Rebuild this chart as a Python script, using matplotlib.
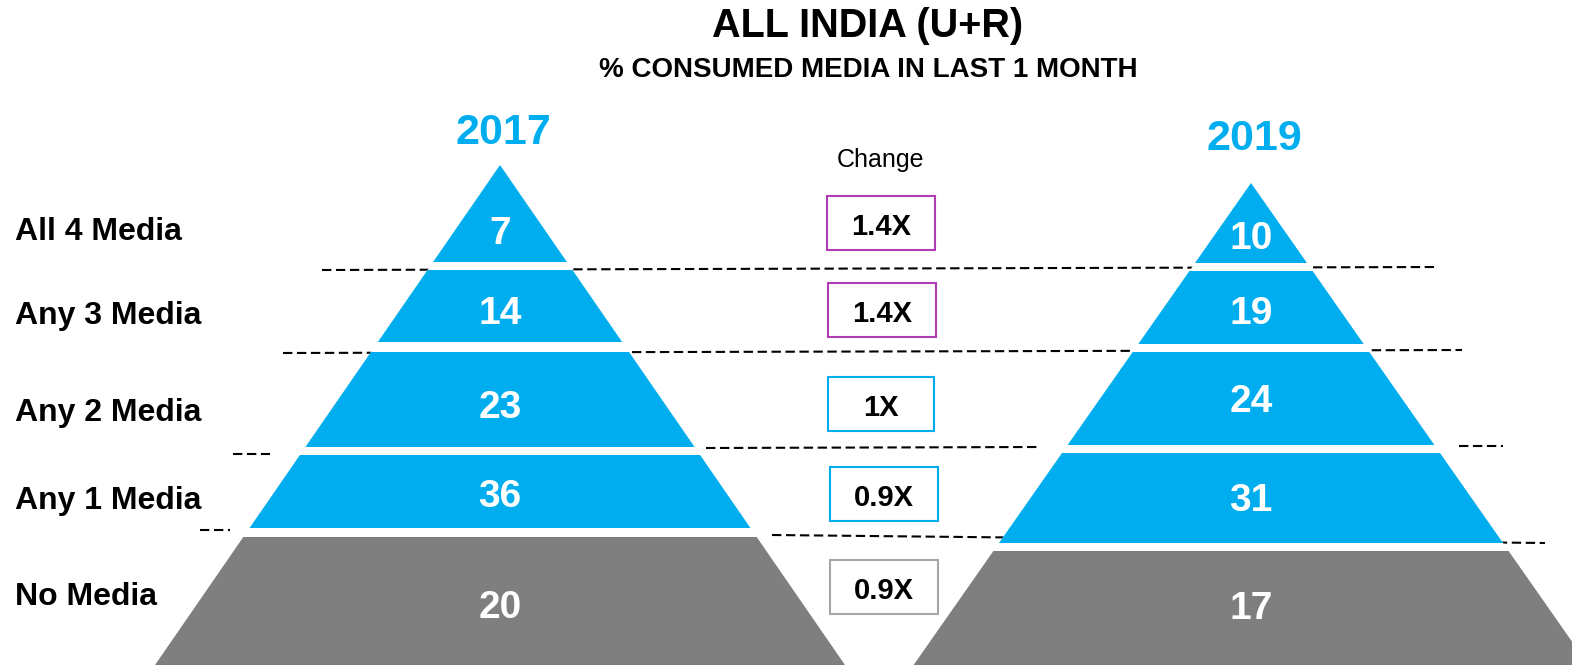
import matplotlib.pyplot as plt
from matplotlib.patches import Polygon, Rectangle

# ===== data =====
categories = ["All 4 Media", "Any 3 Media", "Any 2 Media", "Any 1 Media", "No Media"]
values_2017 = [7, 14, 23, 36, 20]
values_2019 = [10, 19, 24, 31, 17]
change_labels = ["1.4X", "1.4X", "1X", "0.9X", "0.9X"]
years = ["2017", "2019"]

# ===== layout (pixel coords, y grows downward) =====
W, H = 1572, 665
BLUE = "#00AEEF"
GREY = "#7F7F7F"
PURPLE = "#B13BB5"
BOX_GREY = "#A6A6A6"
seg_colors = [BLUE, BLUE, BLUE, BLUE, GREY]
box_colors = [PURPLE, PURPLE, BLUE, BLUE, BOX_GREY]

# apex x, apex y, side slope, segment (top, bottom) rows, label y
pyramids = [
    dict(cx=500, apex=165, slope=0.69,
         rows=[(165, 262), (270, 342), (352, 447), (455, 528), (537, 665)],
         text_y=[230, 310, 404, 493, 604], year_y=128),
    dict(cx=1251, apex=183, slope=0.70,
         rows=[(183, 263), (271, 344), (352, 445), (453, 543), (551, 665)],
         text_y=[235, 310, 398, 497, 605], year_y=134),
]
label_y = [228, 312, 409, 497, 593]
box_rows = [(196, 250), (283, 337), (377, 431), (467, 521), (560, 614)]
box_x = [(827, 935), (828, 936), (828, 934), (830, 938), (830, 938)]

dash_pieces = [
    [(322, 270), (1437, 267)],
    [(283, 353), (1462, 350)],
    [(233, 454), (270, 454)],
    [(706, 448), (1040, 447)],
    [(1459, 446), (1503, 446)],
    [(200, 530), (230, 530)],
    [(772, 535), (1545, 543)],
]

DY = 4  # nudge: matplotlib centres on the full text box, not the caps

FONT = ["Liberation Sans", "DejaVu Sans"]
plt.rcParams["font.family"] = FONT

fig = plt.figure(figsize=(W / 100, H / 100), dpi=100)
ax = fig.add_axes([0, 0, 1, 1])
ax.set_xlim(0, W)
ax.set_ylim(H, 0)
ax.axis("off")

# dashed separators (below the pyramids)
for (x0, y0), (x1, y1) in dash_pieces:
    ax.plot([x0, x1], [y0, y1], color="black", lw=1.5, dashes=(4.5, 2.2), zorder=1)

for p, vals, year in zip(pyramids, [values_2017, values_2019], years):
    cx, apex, k = p["cx"], p["apex"], p["slope"]
    # white silhouette hides the dashes in the gaps between segments
    hb = k * (H + 40 - apex)
    ax.add_patch(Polygon([(cx, apex), (cx + hb, H + 40), (cx - hb, H + 40)],
                         closed=True, facecolor="white", edgecolor="none", zorder=2))
    for (t, b), v, col, ty in zip(p["rows"], vals, seg_colors, p["text_y"]):
        bb = b + 40 if b >= H else b
        ht, hbb = k * (t - apex), k * (bb - apex)
        pts = [(cx - ht, t), (cx + ht, t), (cx + hbb, bb), (cx - hbb, bb)]
        ax.add_patch(Polygon(pts, closed=True, facecolor=col, edgecolor="none", zorder=3))
        ax.text(cx, ty + DY, str(v), color="white", fontsize=28, fontweight="bold",
                ha="center", va="center", zorder=4)
    ax.text(cx + 3, p["year_y"] + DY + 1, year, color=BLUE, fontsize=31, fontweight="bold",
            ha="center", va="center")

# row labels
for lab, y in zip(categories, label_y):
    ax.text(15, y + DY, lab, fontsize=23, fontweight="bold", ha="left", va="center")

# change boxes
ax.text(881, 156 + DY, "Change", fontsize=18, ha="center", va="center")
for (x0, x1), (y0, y1), lab, col in zip(box_x, box_rows, change_labels, box_colors):
    ax.add_patch(Rectangle((x0, y0), x1 - x0, y1 - y0, facecolor="white",
                           edgecolor=col, lw=1.5, zorder=5))
    ax.text((x0 + x1) / 2, (y0 + y1) / 2 + DY, lab, fontsize=21, fontweight="bold",
            ha="center", va="center", zorder=6)

# titles
ax.text(868, 22 + DY, "ALL INDIA (U+R)", fontsize=28.5, fontweight="bold",
        ha="center", va="center")
ax.text(868, 66 + DY, "% CONSUMED MEDIA IN LAST 1 MONTH", fontsize=20, fontweight="bold",
        ha="center", va="center")

fig.savefig("out.png", dpi=100)
plt.close(fig)
